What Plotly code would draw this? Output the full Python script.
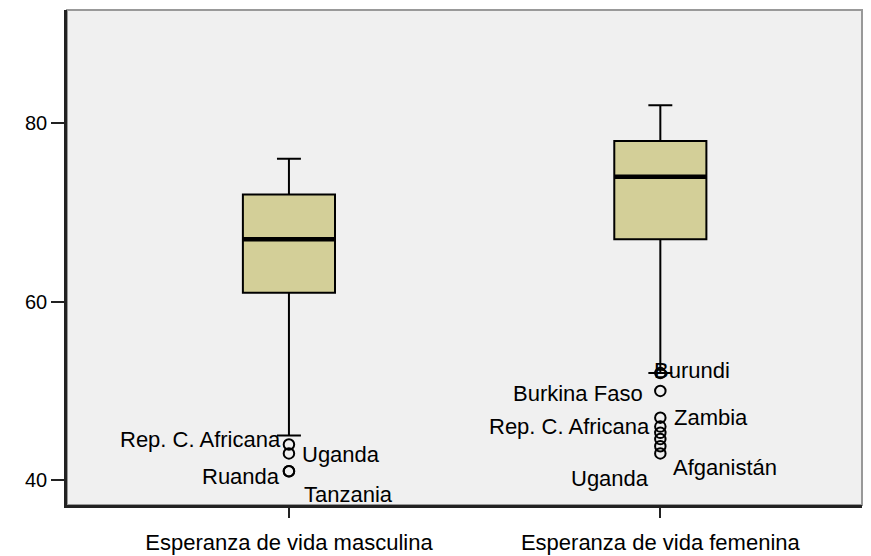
import numpy as np
import plotly.graph_objects as go

# box statistics
categories = ["Esperanza de vida masculina", "Esperanza de vida femenina"]
q1 = [61, 67]
medians = [67, 74]
q3 = [72, 78]
lower_whisker = [45, 52]
upper_whisker = [76, 82]

# outliers (value, country label; "" = unlabeled)
male_out_values = [44, 43, 41, 41]
male_out_names = ["Rep. C. Africana", "Uganda", "Ruanda", "Tanzania"]
female_out_values = [52, 50, 47, 46, 45.3, 44.6, 43.8, 43]
female_out_names = ["Burundi", "Burkina Faso", "Zambia", "Rep. C. Africana",
                    "", "", "Afganistán", "Uganda"]

y_ticks = [40, 60, 80]

# label placement: (xanchor, xshift, yshift) per labeled outlier
male_label_pos = [("right", -6, 5), ("left", 11, -1), ("right", -7, -5), ("left", 13, -23)]
female_label_pos = [("left", -8, 3), ("right", -15, -3), ("left", 12, 0), ("right", -8, 0),
                    None, None, ("left", 11, -21), ("right", -9, -25)]

FONT = "Liberation Sans, Arial, sans-serif"
BOX_FILL = "#d3cf98"
box_w = 0.248
xpos = np.arange(len(categories))

fig = go.Figure()

fig.add_trace(go.Box(
    x=xpos, q1=q1, median=medians, q3=q3,
    lowerfence=lower_whisker, upperfence=upper_whisker,
    width=box_w, whiskerwidth=0.26,
    fillcolor=BOX_FILL, line=dict(color="black", width=2),
    boxpoints=False, hoverinfo="skip", showlegend=False,
))

# thick median lines
for p, m in zip(xpos, medians):
    fig.add_trace(go.Scatter(
        x=[p - box_w / 2, p + box_w / 2], y=[m, m], mode="lines",
        line=dict(color="black", width=4.5), showlegend=False, hoverinfo="skip",
    ))

out_sets = [
    (xpos[0], male_out_values, male_out_names, male_label_pos),
    (xpos[1], female_out_values, female_out_names, female_label_pos),
]
for p, vals, names, lpos in out_sets:
    fig.add_trace(go.Scatter(
        x=[p] * len(vals), y=vals, mode="markers",
        marker=dict(symbol="circle-open", size=10.5, color="black", line=dict(width=2)),
        showlegend=False, hoverinfo="skip",
    ))
    for v, name, lp in zip(vals, names, lpos):
        if not name:
            continue
        anchor, xs, ys = lp
        fig.add_annotation(
            x=p, y=v, text=name, showarrow=False,
            xanchor=anchor, yanchor="middle", xshift=xs, yshift=ys,
            font=dict(family=FONT, size=22, color="black"),
        )

# frame: light top/right edges
fig.add_shape(type="rect", xref="paper", yref="paper", x0=0, y0=0, x1=1, y1=1,
              line=dict(color="#999999", width=2), layer="below")

# page body has an 8px margin, so the figure is sized/offset to fit the window
fig.update_layout(
    width=855, height=548,
    margin=dict(l=59, r=1, t=2, b=47),
    paper_bgcolor="white", plot_bgcolor="#f0f0f0",
    font=dict(family=FONT, size=22, color="black"),
    xaxis=dict(
        range=[-0.5976, 1.543], tickvals=xpos, ticktext=categories,
        showgrid=False, zeroline=False,
        showline=True, linecolor="#222222", linewidth=2.5,
        ticks="outside", ticklen=10, tickwidth=2, tickcolor="#222222",
        ticklabelstandoff=6,
    ),
    yaxis=dict(
        range=[37.22, 92.67], tickvals=y_ticks,
        showgrid=False, zeroline=False,
        showline=True, linecolor="#222222", linewidth=2.5,
        ticks="outside", ticklen=13, tickwidth=2, tickcolor="#222222",
        tickfont=dict(size=20),
    ),
)

fig.write_html("out.html")
